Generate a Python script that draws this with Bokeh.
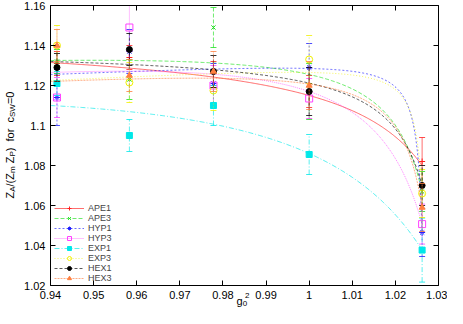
import numpy as np
from bokeh.plotting import figure
from bokeh.models import FixedTicker, Label, LinearAxis, Legend, LegendItem, Range1d
from bokeh.embed import file_html
from bokeh.resources import INLINE

# ---------------- data ----------------
g2 = [0.9415, 0.9583, 0.9778, 1.0, 1.0262]
names = ["APE1", "APE3", "HYP1", "HYP3", "EXP1", "EXP3", "HEX1", "HEX3"]

APE1 = [1.131, 1.134, 1.126, 1.117, 1.082]
APE1_err = [0.006, 0.006, 0.006, 0.008, 0.012]
APE3 = [1.132, 1.123, 1.149, 1.117, 1.067]
APE3_err = [0.006, 0.010, 0.010, 0.014, 0.010]
HYP1 = [1.114, 1.137, 1.121, 1.129, 1.0465]
HYP1_err = [0.014, 0.011, 0.010, 0.012, 0.012]
HYP3 = [1.114, 1.149, 1.120, 1.1135, 1.0507]
HYP3_err = [0.010, 0.012, 0.010, 0.010, 0.010]
EXP1 = [1.121, 1.095, 1.110, 1.0855, 1.0377]
EXP1_err = [0.006, 0.008, 0.010, 0.010, 0.016]
EXP3 = [1.140, 1.1215, 1.1175, 1.133, 1.066]
EXP3_err = [0.010, 0.010, 0.010, 0.012, 0.012]
HEX1 = [1.129, 1.138, 1.127, 1.117, 1.070]
HEX1_err = [0.007, 0.008, 0.008, 0.012, 0.010]
HEX3 = [1.140, 1.125, 1.127, 1.120, 1.059]
HEX3_err = [0.008, 0.008, 0.010, 0.012, 0.012]

# fit curves: values read at fit_x, plus pole position of a + b*x + d/(pole - x)
fit_x = [0.94, 1.0, 1.0262]
fit_APE1 = [1.1315, 1.1150, 1.0800]
fit_APE3 = [1.1325, 1.1255, 1.0670]
fit_HYP1 = [1.1255, 1.1285, 1.0465]
fit_HYP3 = [1.1265, 1.1170, 1.0507]
fit_EXP1 = [1.1100, 1.0860, 1.0377]
fit_EXP3 = [1.1225, 1.1265, 1.0660]
fit_HEX1 = [1.1320, 1.1212, 1.0700]
fit_HEX3 = [1.1220, 1.1207, 1.0590]
fit_pole = [1.047, 1.035, 1.0275, 1.040, 1.060, 1.028, 1.035, 1.032]

x_ticks = [0.94, 0.95, 0.96, 0.97, 0.98, 0.99, 1.0, 1.01, 1.02, 1.03]
x_tick_labels = ["0.94", "0.95", "0.96", "0.97", "0.98", "0.99", "1", "1.01", "1.02", "1.03"]
y_ticks = [1.02, 1.04, 1.06, 1.08, 1.10, 1.12, 1.14, 1.16]
y_tick_labels = ["1.02", "1.04", "1.06", "1.08", "1.1", "1.12", "1.14", "1.16"]

values = [APE1, APE3, HYP1, HYP3, EXP1, EXP3, HEX1, HEX3]
errors = [APE1_err, APE3_err, HYP1_err, HYP3_err, EXP1_err, EXP3_err, HEX1_err, HEX3_err]
fits = [fit_APE1, fit_APE3, fit_HYP1, fit_HYP3, fit_EXP1, fit_EXP3, fit_HEX1, fit_HEX3]

# ---------------- styles / layout ----------------
colors = ["#ff2020", "#20e020", "#2020ff", "#ff40ff", "#00e8e8", "#f0f000", "#000000", "#ff8040"]
dashes = ["solid", "4 2", "2 2", "1 1", "5 2 1 2", "1 2", "3 2", "2 1"]
markers = ["cross", "x", "asterisk", "square", "square", "circle", "circle", "triangle"]
filled = [True, True, True, False, True, False, True, True]
FONT = "Liberation Sans"

W, H = 447, 308                 # canvas
BOX_L, BOX_R, BOX_T, BOX_B = 50, 438, 5, 285   # plot box in canvas pixels
XMIN, XMAX, YMIN, YMAX = 0.94, 1.03, 1.02, 1.16
sx = (BOX_R - BOX_L) / (XMAX - XMIN)
sy = (BOX_B - BOX_T) / (YMAX - YMIN)
x_range = Range1d(XMIN - BOX_L / sx, XMAX + (W - BOX_R) / sx)
y_range = Range1d(YMIN - (H - BOX_B) / sy, YMAX + BOX_T / sy)

p = figure(width=W, height=H, x_range=x_range, y_range=y_range,
           x_axis_type=None, y_axis_type=None,
           output_backend="svg", toolbar_location=None, min_border=0)
p.grid.visible = False
p.outline_line_color = None
p.background_fill_color = "white"
p.border_fill_color = "white"


def make_axis(loc, bounds, ticks, labels, show):
    ax = LinearAxis(fixed_location=loc, bounds=bounds)
    ax.ticker = FixedTicker(ticks=ticks)
    ax.major_label_overrides = {t: l for t, l in zip(ticks, labels)}
    ax.major_tick_in = 5
    ax.major_tick_out = 0
    ax.minor_tick_line_color = None
    ax.axis_line_color = "black"
    ax.major_tick_line_color = "black"
    ax.major_label_text_font = FONT
    ax.major_label_text_font_size = "11px"
    ax.major_label_standoff = 5
    ax.major_label_text_color = "black" if show else None
    return ax


p.add_layout(make_axis(YMIN, (XMIN, XMAX), x_ticks, x_tick_labels, True), "below")
p.add_layout(make_axis(XMIN, (YMIN, YMAX), y_ticks, y_tick_labels, True), "left")
p.add_layout(make_axis(YMAX, (XMIN, XMAX), x_ticks, x_tick_labels, False), "above")
p.add_layout(make_axis(XMAX, (YMIN, YMAX), y_ticks, y_tick_labels, False), "right")

items = []
gx = np.array(g2)
for i, name in enumerate(names):
    c = colors[i]
    v = np.array(values[i])
    e = np.array(errors[i])
    lo = np.clip(v - e, YMIN, YMAX)
    hi = np.clip(v + e, YMIN, YMAX)
    pole = fit_pole[i]
    fx = np.array(fit_x)
    A = np.column_stack([np.ones(3), fx, 1.0 / (pole - fx)])
    coef = np.linalg.solve(A, np.array(fits[i]))
    xs = np.linspace(fit_x[0], fit_x[-1], 300)
    ys = coef[0] + coef[1] * xs + coef[2] / (pole - xs)
    lr = p.line(xs, ys, line_color=c, line_width=1, line_dash=dashes[i], line_alpha=0.65)
    p.segment(gx, lo, gx, hi, line_color=c, line_width=1, line_dash=dashes[i], line_alpha=0.65)
    p.scatter(gx[v - e >= YMIN], (v - e)[v - e >= YMIN], marker="dash", size=6, line_color=c, line_alpha=0.8)
    p.scatter(gx[v + e <= YMAX], (v + e)[v + e <= YMAX], marker="dash", size=6, line_color=c, line_alpha=0.8)
    if filled[i]:
        sr = p.scatter(gx, v, marker=markers[i], size=6, line_color=c, fill_color=c, line_width=1)
    else:
        sr = p.scatter(gx, v, marker=markers[i], size=7, line_color=c, fill_color=None, line_width=1)
    items.append(LegendItem(label=name, renderers=[lr, sr]))

legend = Legend(items=items, location=(BOX_L + 4, H - BOX_B + 2))
legend.border_line_color = None
legend.background_fill_alpha = 0
legend.label_text_font = FONT
legend.label_text_font_size = "9px"
legend.label_height = 10
legend.glyph_height = 10
legend.glyph_width = 30
legend.spacing = 0
legend.padding = 2
legend.margin = 0
legend.label_standoff = 4
p.add_layout(legend)

# ---------------- y axis label (with subscripts) ----------------
NB = "\u00a0"
y_pieces = [("Z", False), ("A", True), ("/(Z", False), ("m", True), (NB + "Z", False), ("P", True),
            (")" + NB * 2 + "for" + NB * 2 + "c", False), ("SW", True), ("=0", False)]
em = {"Z": 0.611, "A": 0.667, "/": 0.278, "(": 0.333, ")": 0.333, NB: 0.278, "f": 0.278,
      "o": 0.556, "r": 0.333, "c": 0.5, "S": 0.667, "W": 0.944, "=": 0.584, "0": 0.556,
      "m": 0.833, "P": 0.667}
main_fs, sub_fs = 11, 8
pos = 110.0
for txt, sub in y_pieces:
    fs = sub_fs if sub else main_fs
    p.add_layout(Label(x=9 + (2.5 if sub else 0), y=pos, x_units="screen", y_units="screen",
                       text=txt, angle=np.pi / 2, text_font=FONT,
                       text_font_size=f"{fs}px", text_align="left", text_baseline="alphabetic",
                       text_color="black"))
    pos += sum(em[ch] for ch in txt) * fs

# ---------------- x axis label g0^2 ----------------
p.add_layout(Label(x=236, y=7.5, x_units="screen", y_units="screen", text="g", text_font=FONT,
                   text_font_size="11px", text_baseline="alphabetic", text_color="black"))
p.add_layout(Label(x=242.3, y=5, x_units="screen", y_units="screen", text="0", text_font=FONT,
                   text_font_size="8px", text_baseline="alphabetic", text_color="black"))
p.add_layout(Label(x=244.5, y=13, x_units="screen", y_units="screen", text="2", text_font=FONT,
                   text_font_size="8px", text_baseline="alphabetic", text_color="black"))

open("out.html", "w").write(file_html(p, INLINE))
